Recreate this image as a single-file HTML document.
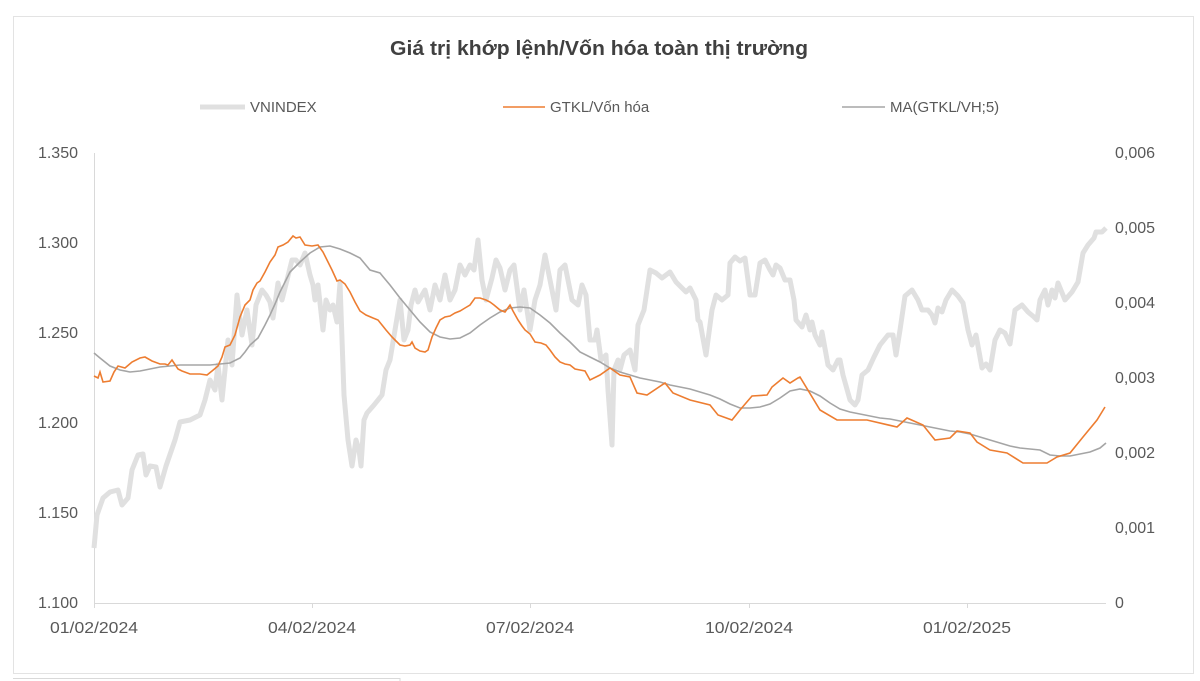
<!DOCTYPE html>
<html><head><meta charset="utf-8"><style>body{margin:0;background:#fff}svg{display:block}</style></head><body>
<svg width="1200" height="681" xmlns="http://www.w3.org/2000/svg" font-family="Liberation Sans, sans-serif" fill="#595959">
<rect x="13.5" y="16.5" width="1180" height="657" fill="none" stroke="#e3e3e3"/>
<line x1="13" y1="678.5" x2="400" y2="678.5" stroke="#d9d9d9"/>
<line x1="400" y1="678" x2="400" y2="681" stroke="#d9d9d9"/>
<text x="390" y="55" font-size="20" font-weight="bold" fill="#404040" textLength="418" lengthAdjust="spacingAndGlyphs">Giá trị khớp lệnh/Vốn hóa toàn thị trường</text>
<line x1="200" y1="107" x2="245" y2="107" stroke="#e0e0e0" stroke-width="5"/>
<text x="250" y="112" font-size="15">VNINDEX</text>
<line x1="503" y1="107" x2="545" y2="107" stroke="#ed7d31" stroke-width="1.6"/>
<text x="550" y="112" font-size="15">GTKL/Vốn hóa</text>
<line x1="842" y1="107" x2="885" y2="107" stroke="#a5a5a5" stroke-width="1.6"/>
<text x="890" y="112" font-size="15">MA(GTKL/VH;5)</text>
<g font-size="16" text-anchor="end">
<text x="78" y="158">1.350</text><text x="78" y="248">1.300</text><text x="78" y="338">1.250</text><text x="78" y="428">1.200</text><text x="78" y="518">1.150</text><text x="78" y="608">1.100</text>
</g>
<g font-size="16">
<text x="1115" y="158">0,006</text><text x="1115" y="233">0,005</text><text x="1115" y="308">0,004</text><text x="1115" y="383">0,003</text><text x="1115" y="458">0,002</text><text x="1115" y="533">0,001</text><text x="1115" y="608">0</text>
</g>
<g font-size="16">
<text x="50" y="633" textLength="88" lengthAdjust="spacingAndGlyphs">01/02/2024</text><text x="268" y="633" textLength="88" lengthAdjust="spacingAndGlyphs">04/02/2024</text><text x="486" y="633" textLength="88" lengthAdjust="spacingAndGlyphs">07/02/2024</text><text x="705" y="633" textLength="88" lengthAdjust="spacingAndGlyphs">10/02/2024</text><text x="923" y="633" textLength="88" lengthAdjust="spacingAndGlyphs">01/02/2025</text>
</g>
<g stroke="#d9d9d9" stroke-width="1">
<line x1="94.5" y1="153" x2="94.5" y2="608"/>
<line x1="94" y1="603.5" x2="1106" y2="603.5"/>
<line x1="312.5" y1="603" x2="312.5" y2="608"/><line x1="530.5" y1="603" x2="530.5" y2="608"/><line x1="749.5" y1="603" x2="749.5" y2="608"/><line x1="967.5" y1="603" x2="967.5" y2="608"/>
</g>
<polyline fill="none" stroke="#e0e0e0" stroke-width="5" stroke-linejoin="round" points="94,548 97,515 103,498 110,492 118,490 122,505 128,498 132,470 138,455 143,454 146,475 150,466 156,467 160,487 166,466 175,440 180,422 190,420 200,415 205,400 210,380 215,390 218,365 222,400 228,340 232,365 237,295 242,335 247,310 252,345 256,305 262,290 266,295 270,302 273,318 278,283 282,300 292,260 296,260 300,265 305,253 310,275 313,285 315,300 318,285 323,330 326,300 330,310 333,305 337,322 340,283 344,395 348,440 352,466 356,440 359,450 361,466 364,420 367,413 374,405 382,395 386,370 390,360 395,330 400,300 404,340 408,330 411,305 415,290 418,302 425,290 430,310 435,285 440,300 445,275 450,300 455,290 460,265 465,275 470,265 474,270 478,240 482,280 486,300 492,278 496,260 500,268 505,290 510,270 514,265 520,310 524,290 530,330 535,300 540,285 545,255 550,280 556,310 560,270 565,265 572,300 578,305 582,285 586,295 590,340 595,340 597,330 601,360 606,355 608,390 612,445 614,370 618,360 620,370 624,355 630,350 635,370 638,325 644,310 650,270 656,273 662,278 670,272 676,282 686,292 690,288 696,300 698,320 700,322 706,355 712,310 716,295 722,300 728,295 730,263 735,257 740,261 745,258 750,295 755,295 760,263 765,260 770,270 773,275 776,265 780,268 785,280 790,280 794,300 796,320 802,327 806,315 810,330 812,322 815,335 820,345 822,332 828,365 833,370 838,360 840,360 843,375 850,400 855,405 858,400 862,375 868,370 874,357 880,345 888,335 893,335 896,355 900,330 905,296 912,290 918,300 922,310 928,310 932,315 935,323 938,308 942,312 946,300 952,290 958,296 963,303 968,330 972,345 976,335 982,368 986,364 990,370 995,340 1000,330 1005,333 1010,344 1015,310 1022,305 1028,312 1034,317 1037,320 1040,300 1045,290 1048,305 1052,290 1055,298 1058,283 1065,300 1072,292 1078,282 1083,253 1088,245 1094,238 1096,232 1102,232 1106,228"/>
<polyline fill="none" stroke="#a5a5a5" stroke-width="1.6" points="94,353 100,358 110,366 120,370 130,372 140,371 150,369 160,367 170,366 180,365 190,365 200,365 210,365 220,364 230,363 240,358 245,352 250,345 258,338 265,325 270,315 275,304 280,292 290,272 300,262 310,253 320,247 330,246 340,249 350,253 360,258 370,270 380,273 390,285 400,298 410,310 420,322 430,332 440,337 450,339 460,338 470,333 480,325 490,318 500,312 510,308 520,307 530,308 540,315 550,323 560,333 570,342 580,352 590,357 600,362 610,368 620,372 630,375 640,378 650,380 660,382 670,385 680,387 690,389 700,392 710,395 720,399 730,404 740,408 750,408 760,407 770,404 780,398 790,391 800,389 810,391 820,396 830,403 840,409 850,412 860,414 870,416 880,418 890,419 900,421 910,423 920,425 930,427 940,429 950,431 960,432 970,434 980,437 990,440 1000,443 1010,446 1020,448 1030,449 1040,450 1050,455 1060,456 1070,456 1080,454 1090,452 1100,448 1106,443"/>
<polyline fill="none" stroke="#ed7d31" stroke-width="1.6" points="94,376 98,378 100,372 103,382 110,381 114,372 118,366 125,368 132,362 140,358 145,357 152,361 160,364 165,364 168,365 172,360 178,369 182,371 190,374 200,374 207,375 212,371 218,366 222,357 225,347 230,345 235,335 240,317 245,305 250,300 253,290 257,283 260,281 265,272 270,262 275,255 278,247 283,245 288,242 293,236 296,238 300,237 305,245 312,246 318,245 323,252 328,262 332,270 337,281 340,280 345,284 350,292 355,302 360,311 366,315 373,318 378,320 382,325 386,330 392,337 395,340 400,345 405,346 410,345 412,342 415,348 420,351 425,352 428,350 432,337 436,328 440,320 445,317 450,316 455,313 460,311 465,308 470,305 475,298 480,298 486,300 490,302 494,305 500,310 505,312 510,305 513,311 518,320 522,326 525,330 530,334 535,342 541,343 546,345 550,350 555,357 560,362 565,364 570,365 575,369 580,370 585,371 590,380 600,375 610,368 620,375 630,377 637,393 647,395 665,383 673,393 690,400 710,405 718,415 732,420 740,410 752,396 767,395 772,387 783,378 790,383 798,378 800,377 820,410 837,420 867,420 897,427 907,418 923,425 935,440 950,438 957,431 970,433 977,442 990,450 1007,453 1023,463 1047,463 1057,457 1070,453 1083,437 1097,420 1105,407"/>
</svg>
</body></html>
